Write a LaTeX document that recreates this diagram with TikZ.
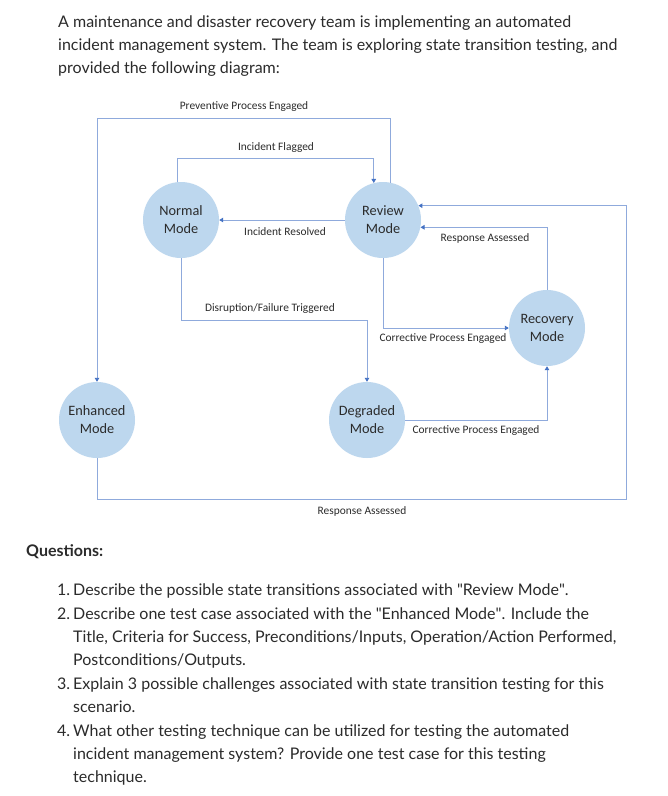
\documentclass[tikz,border=0pt]{standalone}
\usepackage{fontspec}
\setmainfont{Lato}
\newfontfamily\diagfont{Carlito}
\usetikzlibrary{arrows.meta,positioning}
\definecolor{StateFill}{HTML}{BDD7EE}
\definecolor{LinkBlue} {HTML}{8FAADC}
\definecolor{TipBlue}  {HTML}{4472C4}
\definecolor{BodyText} {HTML}{2B2B2B}

\begin{document}
\begin{tikzpicture}[x=1pt,y=-1pt,
    state/.style={circle,fill=StateFill,minimum size=76pt,inner sep=0pt,align=center,
                  text=BodyText,font=\diagfont\fontsize{14.3}{18}\selectfont},
    link/.style={draw=LinkBlue,line width=0.9pt,-{Triangle[length=4pt,width=4.5pt,color=TipBlue]}},
    lbl/.style={text=BodyText,inner sep=0pt,font=\diagfont\fontsize{11.4}{13}\selectfont},
    body/.style={text=BodyText,inner sep=0pt,anchor=base west,font=\fontsize{16}{18}\selectfont}]
    \useasboundingbox[fill=white] (0,0) rectangle (668,796);

    % question text
    \node[body] (intro1) at (58,27) {A maintenance and disaster recovery team is implementing an automated};
    \node[body] (intro2) at (58,50) {incident management system. The team is exploring state transition testing, and};
    \node[body] (intro3) at (58,73) {provided the following diagram:};

    % states
    \node[state] (normal)    at (181,220) {Normal\\Mode};
    \node[state] (review)    at (383,220) {Review\\Mode};
    \node[state] (recovery)  at (547,328) {Recovery\\Mode};
    \node[state] (enhanced)  at (97,420)  {Enhanced\\Mode};
    \node[state] (degraded)  at (367,420) {Degraded\\Mode};

    % bends
    \coordinate (prevTop) at (0,118);
    \coordinate (flagTop) at (0,158);
    \coordinate (disrTurn) at (0,320);
    \coordinate (outerTurn) at (626,499);

    % transitions
    \draw[link] (review.78) |- (enhanced.north |- prevTop) -- (enhanced.north);
    \draw[link] (normal.95) |- (review.104 |- flagTop) -- (review.104);
    \draw[link] (review.west) -- (normal.east);
    \draw[link] (normal.south) |- (degraded.north |- disrTurn) -- (degraded.north);
    \draw[link] (review.south) |- (recovery.west);
    \draw[link] (recovery.north) |- (review.-11);
    \draw[link] (degraded.east) -| (recovery.south);
    \draw[link] (enhanced.south) |- (outerTurn) |- (review.22);

    % transition labels
    \node[lbl] (lPrev)  at (244,107) {Preventive Process Engaged};
    \node[lbl] (lFlag)  at (276,148) {Incident Flagged};
    \node[lbl] (lRes)   at (285,232) {Incident Resolved};
    \node[lbl] (lDisr)  at (270,309) {Disruption/Failure Triggered};
    \node[lbl] (lAss1)  at (485,238) {Response Assessed};
    \node[lbl] (lCor1)  at (443,339) {Corrective Process Engaged};
    \node[lbl] (lCor2)  at (476,431) {Corrective Process Engaged};
    \node[lbl] (lAss2)  at (362,511) {Response Assessed};

    % questions
    \node[body,font=\bfseries\fontsize{16}{18}\selectfont] (qhead) at (26,556) {Questions:};
    \node[body] (n1) at (57,595) {1.};
    \node[body] (q1) at (73,595) {Describe the possible state transitions associated with \textquotedbl Review Mode\textquotedbl.};
    \node[body] (n2) at (57,619) {2.};
    \node[body] (q2a) at (73,619) {Describe one test case associated with the \textquotedbl Enhanced Mode\textquotedbl. Include the};
    \node[body] (q2b) at (73,642) {Title, Criteria for Success, Preconditions/Inputs, Operation/Action Performed,};
    \node[body] (q2c) at (73,665) {Postconditions/Outputs.};
    \node[body] (n3) at (57,689) {3.};
    \node[body] (q3a) at (73,689) {Explain 3 possible challenges associated with state transition testing for this};
    \node[body] (q3b) at (73,712) {scenario.};
    \node[body] (n4) at (57,736) {4.};
    \node[body] (q4a) at (73,736) {What other testing technique can be utilized for testing the automated};
    \node[body] (q4b) at (73,759) {incident management system? Provide one test case for this testing};
    \node[body] (q4c) at (73,782) {technique.};
  \end{tikzpicture}
\end{document}
